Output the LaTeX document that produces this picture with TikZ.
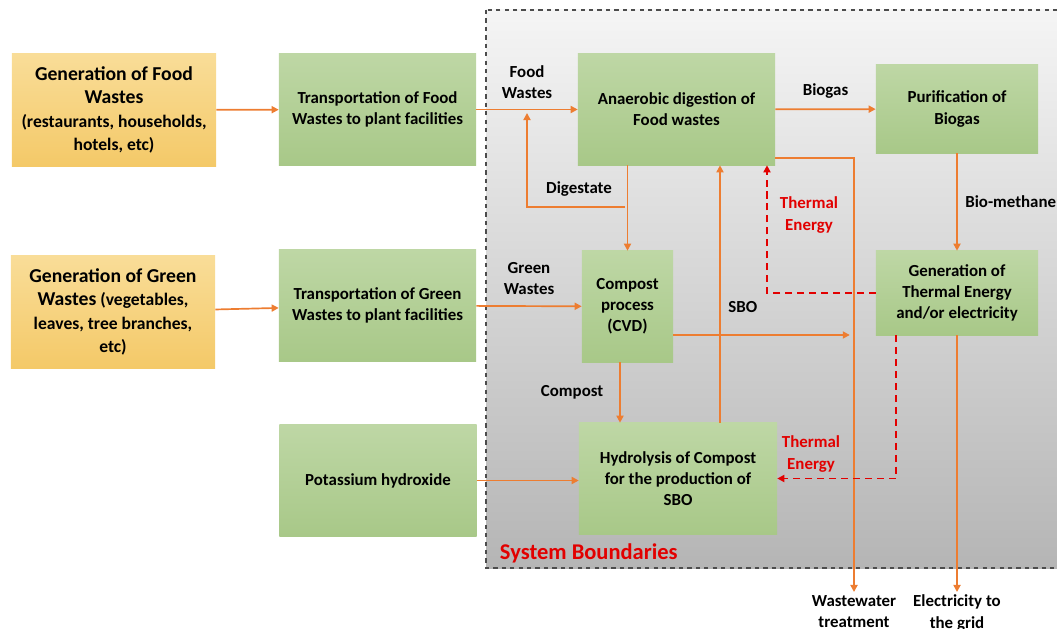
\documentclass[tikz,border=0pt]{standalone}
\usepackage{fontspec}
\setmainfont{Carlito}
\usetikzlibrary{arrows.meta}

\definecolor{flow}{RGB}{237,125,49}
\definecolor{heat}{RGB}{226,0,0}
\definecolor{leafA}{RGB}{190,215,165}
\definecolor{leafB}{RGB}{168,200,136}
\definecolor{sunA}{RGB}{249,221,152}
\definecolor{sunB}{RGB}{244,201,104}

\newcommand{\headsize}{\fontsize{14}{17}\selectfont}

\tikzset{
  flowline/.style={draw=flow, line width=1.2pt, ->},
  heatline/.style={draw=heat, line width=1.2pt, dash pattern=on 5pt off 3.5pt, ->},
}

\begin{document}
\begin{tikzpicture}[x=0.025cm, y=-0.025cm, font=\bfseries\fontsize{12}{15}\selectfont,
    >={Triangle[length=5pt,width=5pt]}]

      \useasboundingbox (0,0) rectangle (1057,629);

      \shade[top color=gray!8, bottom color=gray!58, draw=black!70, dashed, line width=0.9pt]
        (486,10) rectangle (1070,568);
      \node[anchor=west, text=heat, font=\bfseries\fontsize{16}{18}\selectfont] (sysb) at (495,553) {System Boundaries};

      \begin{scope}[every node/.style={top color=sunA, bottom color=sunB, align=center,
          font=\bfseries\fontsize{12.5}{16.5}\selectfont,
          minimum width=5.1cm, minimum height=2.8cm, inner sep=1pt}]
        \node (foodgen)  at (114,110) {\headsize Generation of Food\\\headsize Wastes\\
          (restaurants, households,\\hotels, etc)};
        \node (greengen) at (113,312) {\headsize Generation of Green\\
          {\headsize Wastes} (vegetables,\\leaves, tree branches,\\etc)};
      \end{scope}

      \begin{scope}[every node/.style={top color=leafA, bottom color=leafB, align=center,
          minimum width=4.925cm, minimum height=2.775cm, inner sep=1pt}]
        \node (foodtr)  at (377.5,109.5) {Transportation of Food\\Wastes to plant facilities};
        \node (greentr) at (377.5,305.5) {Transportation of Green\\Wastes to plant facilities};
        \node (koh)     at (378,480.5)   {Potassium hydroxide};
        \node (ad)      at (676.5,109.5) {Anaerobic digestion of\\Food wastes};
        \node[minimum width=4.05cm, minimum height=2.2cm] (puri) at (957,109) {Purification of\\Biogas};
        \node[minimum width=4.05cm, minimum height=2.1cm] (gen)  at (957,293) {Generation of\\Thermal Energy\\and/or electricity};
        \node[minimum width=2.275cm] (comp) at (627.5,306.5) {Compost\\process\\(CVD)};
        \node[minimum width=4.95cm] (hyd)   at (678,478.5)   {Hydrolysis of Compost\\for the production of\\SBO};
      \end{scope}

      \coordinate (fw) at (527,113);
      \coordinate (dg) at (625,207);
      \coordinate (ww) at (854,592);
      \coordinate (el) at (957,592);

      \begin{scope}[every node/.style={align=center}]

        \begin{scope}[every edge/.style={flowline}]
          \path (foodgen) edge (foodtr);
          \path (greengen) edge (greentr);
          \path (foodtr)  edge node[above=4pt] (lbfood) {Food\\Wastes} (ad);
          \path (greentr) edge node[above=4pt] (lbgreen) {Green\\Wastes} (comp);
          \path (ad)      edge node[above=4pt] (lbbiogas) {Biogas} (puri);
          \path (puri)    edge node[right=2pt] (lbmeth) {Bio-methane} (gen);
          \path (comp.south -| 620,0) edge node[left=8pt] (lbcomp) {Compost} (hyd.north -| 620,0);
          \path (hyd.north -| 720,0)  edge node[right=2pt,pos=0.45] (lbsbo) {SBO} (ad.south -| 720,0);
          \path (koh)     edge (koh -| hyd.west);
          \path (comp.north |- ad.south) edge (comp.north);
          \path[shorten >=3pt] (comp.east |- 0,335) edge (ww |- 0,335);
          \path (gen)     edge (el);
        \end{scope}

        \draw[flowline] (dg) -| (fw);
        \node (lbdig) at (579,189) {Digestate};
        \draw[flowline] (ad.east |- 0,158) -| (ww);
        \node[below, inner sep=2pt] (lbww) at (ww) {Wastewater\\treatment};
        \node[below, inner sep=2pt] (lbel) at (el) {Electricity to\\the grid};

        \draw[heatline] (gen.west |- 0,293) -| (ad.south -| 767,0);
        \node[text=heat] (lbheatA) at (809,215) {Thermal\\Energy};
        \draw[heatline] (gen.south -| 896,0) |- (hyd.east);
        \node[text=heat] (lbheatB) at (811,454) {Thermal\\Energy};

      \end{scope}

    \end{tikzpicture}
\end{document}
